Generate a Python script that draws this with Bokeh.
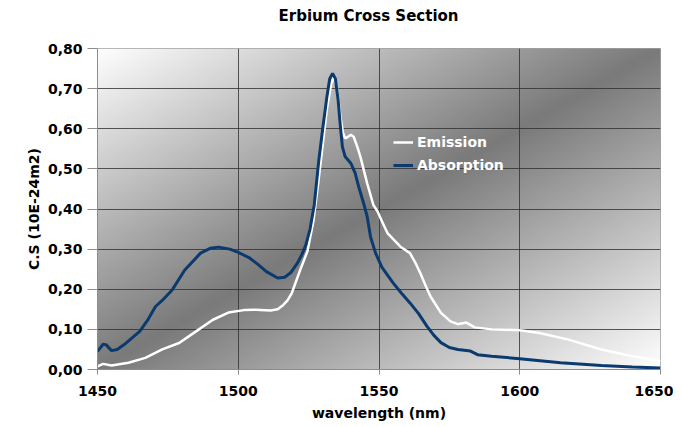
import numpy as np
from bokeh.plotting import figure
from bokeh.models import FixedTicker, CustomJSTickFormatter, Range1d, Legend, LegendItem, Title
from bokeh.embed import file_html
from bokeh.resources import INLINE

# ---- data ----
abs_wl = [1450, 1452, 1453, 1455, 1457, 1460, 1465, 1468, 1470.6, 1473, 1476.6, 1481,
          1486.6, 1490, 1493, 1497, 1500, 1504, 1507, 1510, 1514, 1516.5, 1518.6, 1521,
          1522.5, 1524, 1525.5, 1527, 1528.6, 1530, 1531.5, 1532.5, 1533.5, 1534.5, 1535.5,
          1536.3, 1537, 1538, 1540, 1541.5, 1542.8, 1544.5, 1545.8, 1547, 1548.8, 1551,
          1555, 1558, 1561, 1564, 1567, 1569.5, 1572, 1575, 1578, 1582.5, 1585, 1590,
          1600, 1614.5, 1629, 1640, 1650]
abs_cs = [0.045, 0.063, 0.062, 0.047, 0.050, 0.065, 0.095, 0.125, 0.157, 0.172, 0.199, 0.248,
          0.290, 0.302, 0.305, 0.300, 0.292, 0.278, 0.262, 0.244, 0.228, 0.230, 0.241, 0.265,
          0.285, 0.310, 0.350, 0.410, 0.520, 0.600, 0.680, 0.725, 0.738, 0.725, 0.670,
          0.604, 0.555, 0.530, 0.514, 0.490, 0.455, 0.415, 0.381, 0.330, 0.290, 0.255,
          0.216, 0.190, 0.166, 0.140, 0.108, 0.085, 0.067, 0.055, 0.050, 0.046, 0.037, 0.033,
          0.027, 0.017, 0.010, 0.006, 0.004]

em_wl = [1450, 1452, 1455, 1461, 1467, 1473, 1479, 1485, 1491, 1496.5, 1502, 1506, 1511.5,
         1514, 1516, 1517.5, 1519, 1522, 1524.6, 1526.7, 1528.5, 1530, 1531.5, 1533, 1534,
         1535, 1536.3, 1537.2, 1538, 1539, 1540, 1541, 1542.3, 1543.4, 1545.8, 1548, 1549.4,
         1551, 1553, 1557.6, 1561, 1563, 1564.7, 1566.5, 1568.3, 1572, 1575.4, 1578, 1581,
         1584, 1590, 1600, 1607, 1617, 1629, 1640, 1650]
em_cs = [0.008, 0.014, 0.010, 0.017, 0.029, 0.050, 0.066, 0.095, 0.124, 0.142, 0.148, 0.149, 0.147,
         0.150, 0.161, 0.172, 0.190, 0.248, 0.295, 0.370, 0.470, 0.560, 0.650, 0.712, 0.728,
         0.705, 0.630, 0.590, 0.576, 0.580, 0.585, 0.580, 0.555, 0.530, 0.464, 0.410, 0.395,
         0.370, 0.340, 0.306, 0.290, 0.265, 0.240, 0.210, 0.182, 0.141, 0.120, 0.113, 0.117,
         0.105, 0.100, 0.098, 0.091, 0.075, 0.050, 0.033, 0.021]

x_ticks = [1450, 1500, 1550, 1600, 1650]
y_ticks = [0.0, 0.1, 0.2, 0.3, 0.4, 0.5, 0.6, 0.7, 0.8]
title_text = "Erbium Cross Section"

FONT = "DejaVu Sans"

p = figure(width=673, height=423, output_backend="svg", toolbar_location=None,
           x_range=Range1d(1450, 1650), y_range=Range1d(0, 0.8),
           min_border_left=97, min_border_right=13, min_border_top=48, min_border_bottom=53)

# background gradient (diagonal: white -> gray -> white)
nx, ny = 300, 180
u = (np.arange(nx) + 0.5) / nx
v = 1 - (np.arange(ny) + 0.5) / ny
t = (u[None, :] + v[:, None]) / 2.0
g = 255 - (255 - 122) * (1 - np.abs(2 * t - 1))
img = np.empty((ny, nx, 4), dtype=np.uint8)
img[..., 0] = g
img[..., 1] = g
img[..., 2] = g
img[..., 3] = 255
img32 = img.view(dtype=np.uint32).reshape((ny, nx))
bg = p.image_rgba(image=[img32], x=1450, y=0, dw=200, dh=0.8)
bg.level = "image"

# real title (outermost) and a blank spacer title next to the frame
p.title.text = title_text
p.title.text_font = FONT
p.title.text_font_size = "15px"
p.title.text_font_style = "bold"
p.title.text_color = "black"
p.title.align = "left"
p.title.offset = 181
p.title.vertical_align = "top"
p.title.standoff = 0
spacer = Title(text=" ", text_font=FONT, text_font_size="15px", standoff=2)
p.add_layout(spacer, "above")

# grid
p.xgrid.ticker = FixedTicker(ticks=x_ticks)
p.ygrid.ticker = FixedTicker(ticks=y_ticks)
for gr in (p.xgrid, p.ygrid):
    gr.grid_line_color = "#303030"
    gr.grid_line_alpha = 0.8
    gr.grid_line_width = 1
p.outline_line_color = "#a0a0a0"

# axes
p.xaxis.ticker = FixedTicker(ticks=x_ticks)
p.yaxis.ticker = FixedTicker(ticks=y_ticks)
p.yaxis.formatter = CustomJSTickFormatter(code="return tick.toFixed(2).replace('.', ',');")
for ax in (p.xaxis[0], p.yaxis[0]):
    ax.axis_line_color = "#8c8c8c"
    ax.major_tick_line_color = "#8c8c8c"
    ax.minor_tick_line_color = None
    ax.major_tick_in = 0
    ax.major_label_text_font = FONT
    ax.major_label_text_font_size = "14px"
    ax.major_label_text_font_style = "bold"
    ax.major_label_text_color = "black"
    ax.axis_label_text_font = FONT
    ax.axis_label_text_font_size = "14px"
    ax.axis_label_text_font_style = "bold"
    ax.axis_label_text_color = "black"
p.yaxis.major_tick_out = 10
p.xaxis.major_tick_out = 5
p.yaxis.major_label_standoff = 5
p.xaxis.major_label_standoff = 11
p.xaxis.axis_label = "wavelength (nm)"
p.yaxis.axis_label = "C.S (10E-24m2)"
p.xaxis.axis_label_standoff = 6
p.yaxis.axis_label_standoff = 3

# curves
r_em = p.line(em_wl, em_cs, line_color="white", line_width=2.5)
r_abs = p.line(abs_wl, abs_cs, line_color="#0b3a6e", line_width=3)

legend = Legend(items=[LegendItem(label="Emission", renderers=[r_em]),
                       LegendItem(label="Absorption", renderers=[r_abs])],
                location=(296, 194))
legend.background_fill_alpha = 0
legend.border_line_color = None
legend.padding = 0
legend.margin = 0
legend.spacing = 3
legend.glyph_width = 20
legend.glyph_height = 20
legend.label_height = 20
legend.label_standoff = 4
legend.label_text_font = FONT
legend.label_text_font_size = "14px"
legend.label_text_font_style = "bold"
legend.label_text_color = "white"
p.add_layout(legend, "center")

open("out.html", "w").write(file_html(p, INLINE))
